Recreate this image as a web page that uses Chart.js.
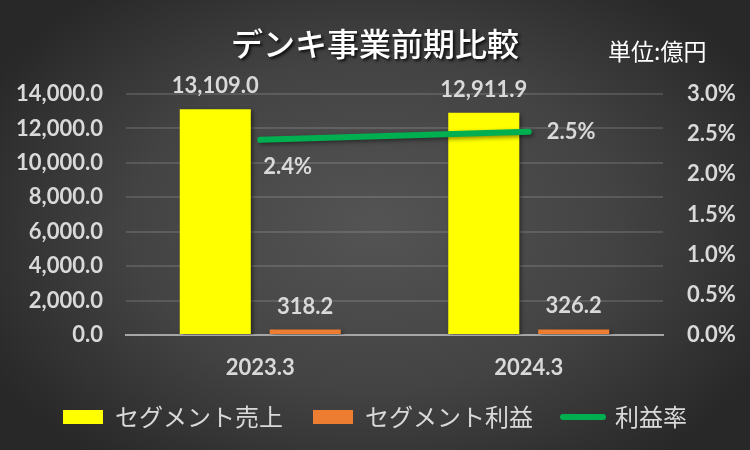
<!DOCTYPE html>
<html>
<head>
  <meta charset="utf-8">
  <title>デンキ事業前期比較</title>
  <style>
    body { margin: 0; }
    #wrap {
      position: relative; width: 750px; height: 450px; overflow: hidden;
      background: radial-gradient(ellipse 440px 300px at 50% 50%, #545454 0%, #434343 55%, #282828 100%);
    }
    #title {
      position: absolute; left: 0; top: 23px; width: 750px; text-align: center;
      font: 500 32px/38px "Noto Sans CJK JP"; color: #ffffff;
      text-shadow: 2px 2px 3px rgba(0, 0, 0, 0.8);
    }
    #unit {
      position: absolute; left: 608px; top: 36px;
      font: 23px/28px "Noto Sans CJK JP"; color: #ffffff;
    }
    canvas { position: absolute; left: 0; top: 0; }
  </style>
</head>
<body>
  <div id="wrap">
    <canvas id="segChart" width="750" height="450"></canvas>
    <div id="title">デンキ事業前期比較</div>
    <div id="unit">単位:億円</div>
  </div>

  <script src="https://cdn.jsdelivr.net/npm/chart.js@4.4.1/dist/chart.umd.min.js"></script>
  <script>
    // data
    var categories = ['2023.3', '2024.3'];
    var salesValues = [13109.0, 12911.9];   // 億円
    var profitValues = [318.2, 326.2];      // 億円
    var marginValues = [2.43, 2.53];        // %
    var salesTicks = [0, 2000, 4000, 6000, 8000, 10000, 12000, 14000];
    var marginTicks = [0, 0.5, 1.0, 1.5, 2.0, 2.5, 3.0];

    var textColor = '#d9d9d9';
    var numFont = { family: 'Lato, "Noto Sans CJK JP"', size: 22, weight: 'bold' };

    function fmt(v) {
      return v.toLocaleString('en-US', { minimumFractionDigits: 1, maximumFractionDigits: 1 });
    }

    // soft shadow under bars and line
    var shadowPlugin = {
      id: 'shadowPlugin',
      beforeDatasetDraw: function(chart, args) {
        var ctx = chart.ctx;
        ctx.save();
        ctx.shadowColor = 'rgba(0,0,0,0.45)';
        ctx.shadowBlur = 4;
        ctx.shadowOffsetX = 2;
        ctx.shadowOffsetY = 2;
      },
      afterDatasetDraw: function(chart) {
        chart.ctx.restore();
      }
    };

    // value labels like the excel data labels
    var valueLabels = {
      id: 'valueLabels',
      afterDatasetsDraw: function(chart) {
        var ctx = chart.ctx;
        ctx.save();
        ctx.font = 'bold 22px Lato';
        ctx.fillStyle = textColor;
        ctx.textBaseline = 'middle';
        chart.data.datasets.forEach(function(ds, i) {
          var meta = chart.getDatasetMeta(i);
          meta.data.forEach(function(el, j) {
            var v = ds.data[j];
            if (ds.type === 'line') {
              ctx.textAlign = 'left';
              // first label sits under the line, last one to the right of it
              var dx = j === 0 ? 3 : 18;
              var dy = j === 0 ? 27 : 0;
              ctx.fillText(v.toFixed(1) + '%', el.x + dx, el.y + dy);
            } else {
              ctx.textAlign = 'center';
              ctx.fillText(fmt(v), el.x, el.y - 23);
            }
          });
        });
        ctx.restore();
      }
    };

    var ctx = document.getElementById('segChart').getContext('2d');
    new Chart(ctx, {
      data: {
        labels: categories,
        datasets: [
          {
            type: 'line',
            label: '利益率',
            data: marginValues,
            yAxisID: 'y1',
            borderColor: '#00b050',
            backgroundColor: '#00b050',
            borderWidth: 6,
            borderCapStyle: 'round',
            pointRadius: 0,
            order: 0
          },
          {
            type: 'bar',
            label: 'セグメント売上',
            data: salesValues,
            yAxisID: 'y',
            backgroundColor: '#ffff00',
            categoryPercentage: 0.67,
            barPercentage: 0.79,
            order: 1
          },
          {
            type: 'bar',
            label: 'セグメント利益',
            data: profitValues,
            yAxisID: 'y',
            backgroundColor: '#ed7d31',
            categoryPercentage: 0.67,
            barPercentage: 0.79,
            order: 1
          }
        ]
      },
      options: {
        responsive: false,
        devicePixelRatio: 1,
        animation: false,
        layout: { padding: { top: 94, left: 0, right: 0, bottom: 11 } },
        plugins: {
          title: { display: false },
          tooltip: { enabled: false },
          legend: {
            position: 'bottom',
            labels: {
              color: textColor,
              font: { family: '"Noto Sans CJK JP"', size: 24 },
              usePointStyle: true,
              pointStyleWidth: 40,
              boxHeight: 14,
              padding: 30,
              sort: function(a, b) {
                // bars first, line last, like the original legend
                var rank = [2, 0, 1];
                return rank[a.datasetIndex] - rank[b.datasetIndex];
              },
              generateLabels: function(chart) {
                var items = Chart.defaults.plugins.legend.labels.generateLabels(chart);
                items.forEach(function(it) {
                  var ds = chart.data.datasets[it.datasetIndex];
                  if (ds.type === 'line') {
                    it.pointStyle = 'line';
                    it.lineWidth = 6;
                    it.lineCap = 'round';
                    it.strokeStyle = ds.borderColor;
                  } else {
                    it.pointStyle = 'rect';
                    it.lineWidth = 0;
                    it.fillStyle = ds.backgroundColor;
                  }
                });
                return items;
              }
            }
          }
        },
        scales: {
          x: {
            grid: { display: false, drawTicks: false },
            border: { color: '#a6a6a6', width: 2 },
            ticks: { color: textColor, font: numFont, padding: 20 },
            afterFit: function(scale) { scale.height = 40; }
          },
          y: {
            position: 'left',
            min: 0,
            max: 14000,
            afterBuildTicks: function(scale) {
              scale.ticks = salesTicks.map(function(v) { return { value: v }; });
            },
            grid: {
              color: function(c) { return c.tick && c.tick.value === 0 ? 'rgba(0,0,0,0)' : 'rgba(255,255,255,0.13)'; },
              lineWidth: 2,
              drawTicks: false
            },
            border: { display: false },
            ticks: {
              color: textColor, font: numFont, padding: 23,
              callback: function(v) { return fmt(v); }
            },
            afterFit: function(scale) { scale.width = 126; }
          },
          y1: {
            position: 'right',
            min: 0,
            max: 3.0,
            afterBuildTicks: function(scale) {
              scale.ticks = marginTicks.map(function(v) { return { value: v }; });
            },
            grid: { drawOnChartArea: false, drawTicks: false },
            border: { display: false },
            ticks: {
              color: textColor, font: numFont, padding: 24,
              callback: function(v) { return v.toFixed(1) + '%'; }
            },
            afterFit: function(scale) { scale.width = 87; }
          }
        }
      },
      plugins: [shadowPlugin, valueLabels]
    });
  </script>
</body>
</html>
